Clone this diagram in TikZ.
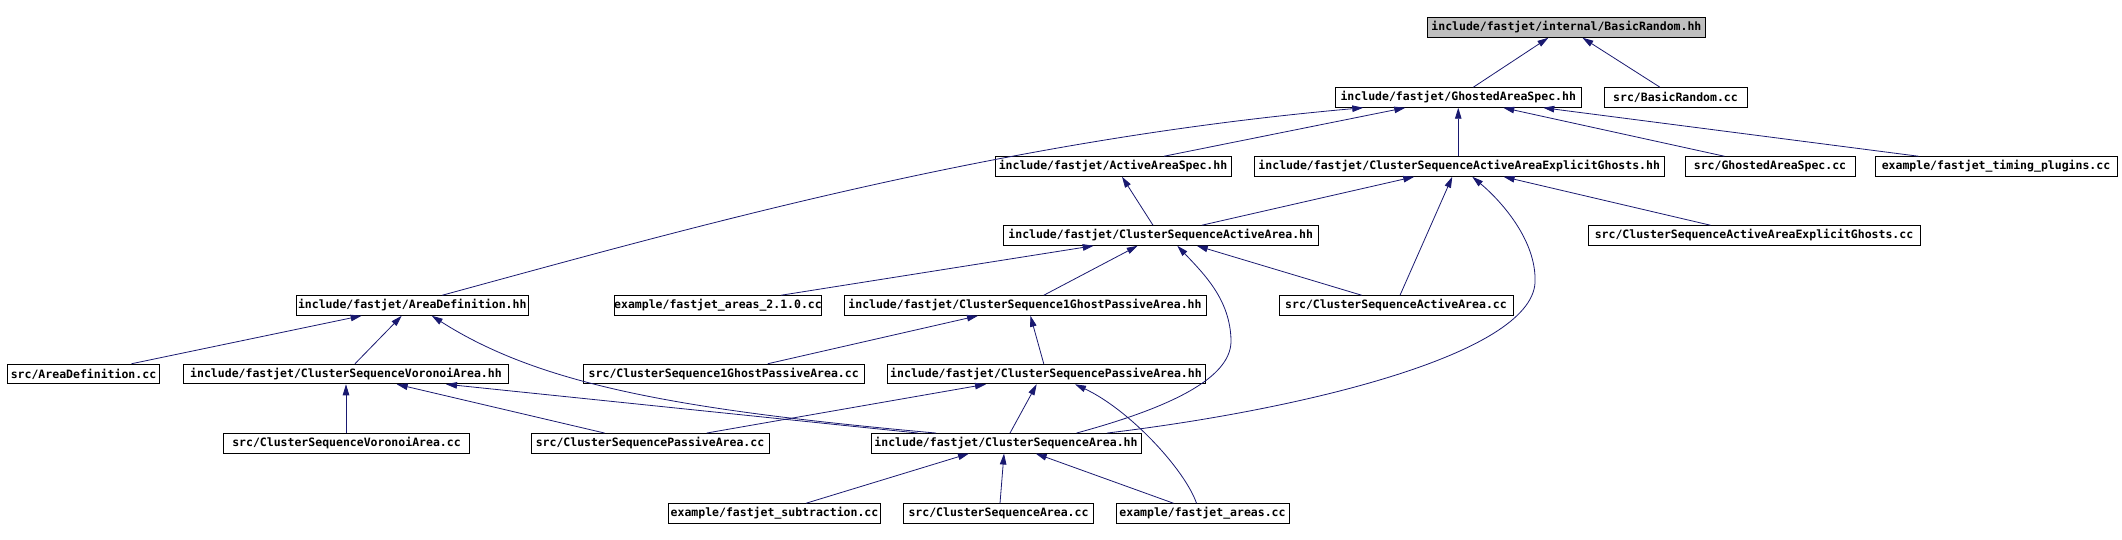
\documentclass[tikz,border=0pt]{standalone}
\usepackage{fontspec}
\setmonofont{DejaVu Sans Mono}
\usepackage{tikz}
\usetikzlibrary{arrows.meta}
\definecolor{edgeblue}{HTML}{191970}
\definecolor{rootgray}{HTML}{BFBFBF}

\begin{document}
\begin{tikzpicture}[x=1pt,y=-1pt,
  file/.style={draw,rectangle,line width=0.9pt,inner sep=0pt,minimum height=19.6pt,
    font=\ttfamily\bfseries\fontsize{11.5}{12}\selectfont},
  dep/.style={color=edgeblue,line width=0.8pt,-{Triangle[length=11pt,width=6.5pt]}}]
\useasboundingbox (0,0) rectangle (2122,540);
\begin{scope}[every node/.style={file}]
    % headers and sources, row by row
    \node[fill=rootgray,minimum width=278] (basicrandomhh) at (1566.4,27.5) {include/fastjet/internal/BasicRandom.hh};

    \node[minimum width=246.5] (ghostedhh) at (1458.25,97.5) {include/fastjet/GhostedAreaSpec.hh};
    \node[minimum width=143] (basicrandomcc) at (1675.5,97.5) {src/BasicRandom.cc};

    \node[minimum width=236] (activespec) at (1113,166.5) {include/fastjet/ActiveAreaSpec.hh};
    \node[minimum width=410.5] (explicitghostshh) at (1459.25,166.5) {include/fastjet/ClusterSequenceActiveAreaExplicitGhosts.hh};
    \node[minimum width=170] (ghostedcc) at (1770,166.5) {src/GhostedAreaSpec.cc};
    \node[minimum width=242] (timingcc) at (1996,166.5) {example/fastjet\_timing\_plugins.cc};

    \node[minimum width=314.5] (activeareahh) at (1160.75,235.5) {include/fastjet/ClusterSequenceActiveArea.hh};
    \node[minimum width=332] (explicitghostscc) at (1754,235.5) {src/ClusterSequenceActiveAreaExplicitGhosts.cc};

    \node[minimum width=231.5] (areadefhh) at (412.25,305.5) {include/fastjet/AreaDefinition.hh};
    \node[minimum width=206] (areas210cc) at (718,305.5) {example/fastjet\_areas\_2.1.0.cc};
    \node[minimum width=362] (ghostpassivehh) at (1025,305.5) {include/fastjet/ClusterSequence1GhostPassiveArea.hh};
    \node[minimum width=234] (activeareacc) at (1396,305.5) {src/ClusterSequenceActiveArea.cc};

    \node[minimum width=152] (areadefcc) at (83.5,374) {src/AreaDefinition.cc};
    \node[minimum width=325] (voronoihh) at (346,374) {include/fastjet/ClusterSequenceVoronoiArea.hh};
    \node[minimum width=280.5] (ghostpassivecc) at (723.75,374) {src/ClusterSequence1GhostPassiveArea.cc};
    \node[minimum width=318] (passivehh) at (1046,374) {include/fastjet/ClusterSequencePassiveArea.hh};

    \node[minimum width=246] (voronoicc) at (346.5,443.3) {src/ClusterSequenceVoronoiArea.cc};
    \node[minimum width=238] (passivecc) at (650,443.3) {src/ClusterSequencePassiveArea.cc};
    \node[minimum width=270] (areahh) at (1006,443.3) {include/fastjet/ClusterSequenceArea.hh};

    \node[minimum width=212] (subtractioncc) at (774.5,513.5) {example/fastjet\_subtraction.cc};
    \node[minimum width=190] (areacc) at (998.5,513.5) {src/ClusterSequenceArea.cc};
    \node[minimum width=173] (areascc) at (1202.5,513.5) {example/fastjet\_areas.cc};
\end{scope}

% include edges
\path [dep] ([xshift=15]ghostedhh.north) edge ([xshift=-18]basicrandomhh.south);
\path [dep] ([xshift=-15.5]basicrandomcc.north) edge ([xshift=16]basicrandomhh.south);

\draw [dep] ([xshift=30]areadefhh.north) .. controls (700,225) and (1000,140) .. ([xshift=-95]ghostedhh.south);
\path [dep] ([xshift=51]activespec.north) edge ([xshift=-53]ghostedhh.south);
\path [dep] ([xshift=-1]explicitghostshh.north) edge (ghostedhh.south);
\path [dep] ([xshift=-45.6]ghostedcc.north) edge ([xshift=45]ghostedhh.south);
\path [dep] ([xshift=-77.5]timingcc.north) edge ([xshift=85]ghostedhh.south);

\path [dep] ([xshift=-7.75]activeareahh.north) edge ([xshift=9]activespec.south);
\path [dep] ([xshift=41]activeareahh.north) edge ([xshift=-45]explicitghostshh.south);
\path [dep] ([xshift=-43.5]explicitghostscc.north) edge ([xshift=44.3]explicitghostshh.south);
\path [dep] ([xshift=4]activeareacc.north) edge ([xshift=-7]explicitghostshh.south);
\draw [dep] ([xshift=101]areahh.north) .. controls (1300,410) and (1530,355) .. (1535,283)
    .. controls (1537,240) and (1500,200) .. ([xshift=13]explicitghostshh.south);

\path [dep] ([xshift=63]areas210cc.north) edge ([xshift=-67]activeareahh.south);
\path [dep] ([xshift=18.75]ghostpassivehh.north) edge ([xshift=-23]activeareahh.south);
\path [dep] ([xshift=-34.3]activeareacc.north) edge ([xshift=36]activeareahh.south);
\draw [dep] ([xshift=70.5]areahh.north) .. controls (1180,405) and (1232,375) .. (1231,340)
    .. controls (1230,300) and (1205,275) .. ([xshift=16.5]activeareahh.south);

\path [dep] ([xshift=48]areadefcc.north) edge ([xshift=-50.6]areadefhh.south);
\path [dep] ([xshift=9]voronoihh.north) edge ([xshift=-10.5]areadefhh.south);
\draw [dep] ([xshift=-70]areahh.north) .. controls (680,410) and (540,385) .. ([xshift=19.5]areadefhh.south);

\path [dep] ([xshift=44]ghostpassivecc.north) edge ([xshift=-47]ghostpassivehh.south);
\path [dep] ([xshift=-2.25]passivehh.north) edge ([xshift=5.4]ghostpassivehh.south);

\path [dep] ([xshift=-0.5]voronoicc.north) edge (voronoihh.south);
\path [dep] ([xshift=-45.4]passivecc.north) edge ([xshift=50.7]voronoihh.south);
\path [dep] ([xshift=-88]areahh.north) edge ([xshift=100]voronoihh.south);

\path [dep] ([xshift=56.6]passivecc.north) edge ([xshift=-60]passivehh.south);
\path [dep] ([xshift=4]areahh.north) edge ([xshift=-9.3]passivehh.south);
\draw [dep] ([xshift=-6]areascc.north) .. controls (1185,470) and (1130,410) .. ([xshift=29]passivehh.south);

\path [dep] ([xshift=31.5]subtractioncc.north) edge ([xshift=-37]areahh.south);
\path [dep] ([xshift=1.5]areacc.north) edge ([xshift=-2]areahh.south);
\path [dep] ([xshift=-29]areascc.north) edge ([xshift=29.7]areahh.south);
\end{tikzpicture}
\end{document}
